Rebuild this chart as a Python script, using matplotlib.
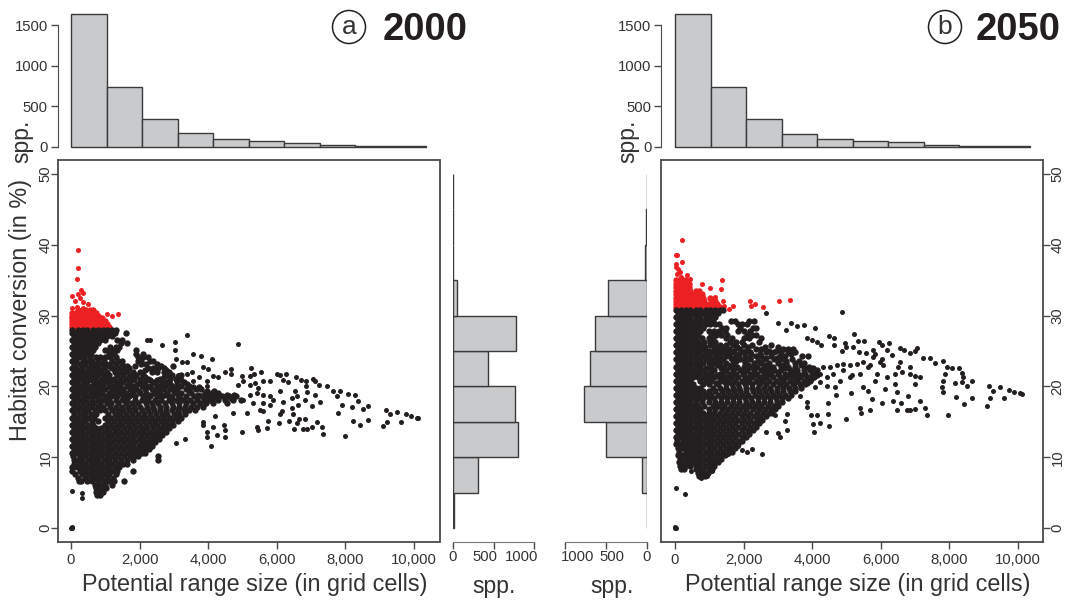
"""Habitat conversion vs potential range size, 2000 and 2050, with marginal histograms."""

import matplotlib
matplotlib.use("Agg")
import matplotlib.pyplot as plt
from matplotlib.patches import Circle
from matplotlib.ticker import FuncFormatter

plt.rcParams["font.family"] = ["Liberation Sans", "DejaVu Sans"]

TEXT = "#333333"
LINE = "#4a4a4a"
BAR = "#c8cacb"
BLACK = "#231f20"
RED = "#ed2024"

# marginal histograms, bars
range_bin_width = 1035
range_counts_a = [1630, 735, 345, 170, 95, 70, 55, 30, 15, 10]
range_counts_b = [1630, 735, 340, 165, 95, 75, 60, 30, 10, 8]
conv_bins = [0, 5, 10, 15, 20, 25, 30, 35, 40, 45]
conv_counts_a = [8, 310, 805, 765, 430, 775, 45, 5, 0, 0]
conv_counts_b = [3, 55, 495, 770, 695, 630, 470, 30, 8, 0]
side_tick_values = [0, 500, 1000]

# scatter, as (conversion %, [range sizes]) rows through the dense cloud
red_rows_a = [
    (30.8, [200, 310, 430, 560, 650]),
    (30.4, [30, 150, 270, 390, 510, 630, 740]),
    (30.0, [30, 140, 260, 380, 500, 620, 740, 800]),
    (29.6, [20, 130, 250, 370, 490, 610, 730, 850, 900]),
    (29.2, [30, 150, 270, 390, 510, 630, 750, 870, 990]),
    (28.8, [20, 130, 250, 370, 490, 610, 730, 850, 970, 1050]),
    (28.4, [30, 150, 270, 390, 510, 630, 750, 870, 990, 1100]),
]
red_x_a = [214, 214, 165, 292, 360, 214, 19, 262, 117, 360, 486, 19, 165, 360, 1040, 1186, 1370, 1089]
red_y_a = [39.2, 36.7, 35.2, 33.6, 33.2, 33.0, 32.7, 32.5, 32.0, 31.9, 31.6, 31.1, 31.2, 31.1, 30.2, 30.0, 30.2, 28.6]

black_rows_a = [
    (28.0, [40, 190, 340, 480, 640, 790, 930, 1060, 1190, 1300]),
    (27.6, [20, 150, 290, 430, 570, 700, 840, 980, 1120, 1290, 1600]),
    (27.1, [90, 230, 360, 500, 640, 780, 920, 1050, 1200]),
    (26.6, [20, 160, 300, 440, 580, 720, 860, 1000, 1350, 1500]),
    (26.1, [90, 230, 370, 500, 640, 780, 1450, 1620]),
    (25.6, [20, 150, 290, 430, 570, 710, 1150, 1300, 1400]),
    (25.1, [90, 220, 360, 500, 640, 1000, 1130, 1250, 1350, 1900]),
    (24.6, [20, 170, 310, 450, 590, 1100, 1240, 1900, 2100]),
    (24.1, [80, 240, 380, 560, 720, 860, 1000, 1150, 1300, 1950, 2100, 2250]),
    (23.6, [20, 150, 340, 500, 620, 800, 950, 1200, 1380, 1500, 1950, 2050, 2300, 2400]),
    (23.1, [90, 260, 420, 570, 740, 880, 1020, 1150, 1300, 1480, 2050, 2200, 2500]),
    (22.85, [640, 1110, 1640, 1870, 2620, 2970]),
    (22.6, [20, 150, 320, 500, 650, 790, 960, 1200, 1360, 1550, 1700, 2250, 2400, 2550, 2700]),
    (22.35, [300, 810, 1280, 1490, 2160, 2780]),
    (22.1, [90, 240, 400, 560, 720, 880, 1060, 1280, 1450, 1620, 1800, 2000, 2350, 2500, 2700, 2850]),
    (21.35, [190, 520, 1010, 1690, 2170, 2720, 3120]),
    (21.6, [20, 170, 330, 480, 640, 800, 960, 1120, 1350, 1520, 1750, 1900, 2100, 2800, 2950, 3200]),
    (21.1, [100, 260, 420, 590, 730, 900, 1060, 1240, 1440, 1600, 1850, 2020, 2250, 2600, 2900, 3050]),
    (20.85, [610, 1180, 1790, 2310, 2520, 3210]),
    (20.6, [20, 180, 340, 480, 680, 820, 1000, 1150, 1300, 1520, 1700, 2000, 2150, 2400, 2650, 2800, 3100, 3300]),
    (20.35, [370, 930, 1380, 1930, 2470, 2880, 3390]),
    (20.1, [90, 250, 420, 600, 760, 900, 1100, 1250, 1420, 1620, 1820, 2080, 2300, 2550, 2750, 2950, 3200, 3450]),
    (19.85, [560, 1150, 1770, 2220, 2630, 3060, 3560, 3740]),
    (19.6, [20, 160, 330, 500, 660, 840, 1000, 1200, 1350, 1520, 1720, 1900, 2150, 2350, 2500, 2700, 2900, 3100, 3350, 3650, 3800]),
    (19.35, [290, 780, 1410, 1980, 2560, 3020, 3430, 3970, 4180]),
    (19.1, [90, 240, 420, 580, 740, 900, 1100, 1280, 1450, 1600, 1800, 2000, 2200, 2420, 2600, 2800, 3000, 3200, 3500, 3900, 4100, 4300]),
    (18.85, [640, 1210, 1730, 2310, 2740, 3120, 3700, 4320, 4550, 4760]),
    (18.6, [20, 170, 340, 500, 680, 820, 1000, 1180, 1340, 1520, 1700, 1880, 2100, 2300, 2500, 2650, 2850, 3350, 3600, 3800, 4000, 4200, 4400, 4600, 4800]),
    (18.35, [430, 1060, 1590, 2170, 2940, 3170, 3940, 4140, 4660]),
    (18.1, [100, 260, 420, 620, 780, 940, 1120, 1300, 1480, 1640, 1860, 2060, 2240, 2440, 2620, 2860, 3100, 3300, 3480, 3680, 3880, 4060, 4280, 4500, 4720, 4950]),
    (17.6, [20, 180, 340, 520, 680, 860, 1040, 1180, 1380, 1600, 1780, 1950, 2180, 2360, 2540, 2740, 2950, 3150, 3350, 3550, 3750, 3950, 4150, 4550]),
    (17.1, [100, 260, 440, 600, 780, 940, 1130, 1300, 1480, 1660, 1840, 2020, 2220, 2400, 2600, 2780, 2960, 3140, 3320, 3500, 3680, 3860]),
    (16.6, [20, 170, 340, 500, 690, 850, 1000, 1190, 1360, 1530, 1700, 1880, 2060, 2240, 2420, 2590, 2770, 2950, 3120, 3300, 3450, 3620]),
    (16.1, [90, 250, 420, 580, 740, 1080, 1270, 1440, 1600, 1770, 1950, 2120, 2300, 2470, 2640, 2810, 2990, 3160, 3330]),
    (15.6, [20, 170, 340, 500, 660, 1000, 1170, 1340, 1510, 1680, 1860, 2030, 2200, 2370, 2540, 2710, 2880, 3050, 3220]),
    (15.1, [90, 250, 420, 600, 800, 1080, 1250, 1420, 1590, 1760, 1930, 2100, 2270, 2440, 2610, 2780, 2950, 3110]),
    (14.6, [20, 170, 330, 490, 650, 1000, 1160, 1330, 1500, 1670, 1840, 2010, 2180, 2350, 2520, 2680, 2830, 2960]),
    (14.1, [90, 250, 410, 570, 720, 880, 1040, 1210, 1380, 1550, 1720, 1890, 2060, 2230, 2400, 2560, 2720, 2860]),
    (13.6, [20, 170, 330, 490, 650, 800, 960, 1120, 1290, 1460, 1630, 1800, 1970, 2140, 2310, 2470, 2620, 2760]),
    (13.1, [90, 250, 410, 570, 720, 880, 1040, 1200, 1370, 1540, 1710, 1880, 2050, 2220, 2390, 2530, 2660]),
    (12.6, [20, 170, 330, 490, 650, 800, 960, 1120, 1290, 1460, 1630, 1800, 1970, 2140, 2290, 2430, 2560]),
    (12.1, [90, 250, 410, 570, 720, 880, 1040, 1200, 1370, 1540, 1710, 1880, 2050, 2200, 2340, 2460]),
    (11.6, [20, 170, 330, 490, 650, 800, 960, 1120, 1290, 1460, 1630, 1800, 1970, 2120, 2250, 2360]),
    (11.1, [90, 250, 410, 570, 720, 880, 1040, 1200, 1370, 1540, 1710, 1880, 2030, 2160, 2260]),
    (10.6, [30, 170, 330, 490, 650, 800, 960, 1120, 1290, 1460, 1630, 1800, 1950, 2060, 2170]),
    (10.1, [60, 250, 410, 570, 720, 880, 1040, 1200, 1370, 1540, 1710, 1850, 1960, 2550]),
    (9.6, [80, 170, 330, 490, 650, 800, 960, 1120, 1290, 1460, 1620, 1810, 2550]),
    (9.1, [100, 250, 410, 570, 720, 880, 1040, 1200, 1370, 1510, 1620]),
    (8.6, [30, 170, 330, 490, 650, 800, 960, 1120, 1290, 1400]),
    (8.1, [30, 250, 410, 570, 720, 880, 1040, 1200, 1350, 1820]),
    (7.6, [120, 330, 490, 650, 800, 960, 1120, 1300]),
    (7.1, [200, 400, 570, 720, 880, 1040, 1230]),
    (6.6, [240, 300, 470, 620, 790, 950, 1100, 1250, 1550]),
    (6.1, [690, 850, 1000, 1200]),
    (5.6, [740, 870, 1010]),
    (5.1, [730, 850, 920]),
    (4.6, [750, 850]),
]
black_x_a = [3373, 3033, 2304, 2206, 2644, 3033, 4880, 3567, 3790, 4121, 3052, 3227, 3373, 3860, 4005, 4490, 4656, 4656,
             5250, 4977, 5220, 5346, 5530, 4150, 4277, 3732, 3956, 3519, 3373, 3130, 3956, 3567, 4880, 5025, 5220, 5365,
             5608, 5803, 5997, 6095, 6260, 6192, 6337, 6561, 6697, 6852, 7047, 7115, 6852, 7241, 7455, 7650, 7844, 8087,
             8280, 8380, 8670, 8524, 8184, 7747, 7893, 7795, 9176, 9302, 9496, 9759, 9905, 10080, 10128, 9613, 9205, 9088,
             8670, 8427, 8213, 7990, 7358, 7310, 7164, 7018, 6872, 6775, 6512, 6580, 6824, 6658, 6367, 6056, 5706, 5754,
             5433, 5462, 4996, 4490, 4490, 4461, 4150, 4247, 3975, 3956, 4092, 3859, 3859, 3324, 3062, 5122, 4714, 4200,
             5608, 5511, 6095, 6483, 6143, 5608, 5803, 6192, 6435, 6629, 6824, 7018, 7261, 6435, 6580, 6532, 7115, 6872,
             6095, 5803, 5414, 5220, 5025, 5317, 5462, 5608, 5900, 311, 311, 19, 19, -5, 20, 30]
black_y_a = [27.2, 26.3, 26.6, 26.5, 25.8, 25.2, 26.0, 24.6, 24.3, 23.8, 23.8, 23.5, 23.4, 22.8, 22.5, 22.1, 22.5, 21.7,
             22.6, 21.4, 21.5, 21.8, 22.0, 21.5, 21.3, 21.3, 20.8, 22.0, 21.7, 21.6, 20.1, 20.8, 20.2, 20.7, 20.2, 20.5,
             20.8, 20.7, 21.8, 21.6, 21.7, 20.9, 20.6, 21.3, 20.9, 20.7, 21.1, 20.7, 20.0, 20.2, 20.0, 19.4, 19.4, 18.9,
             18.8, 17.9, 17.3, 16.8, 17.1, 18.6, 17.4, 16.2, 16.6, 16.1, 16.4, 16.1, 15.8, 15.6, 15.5, 15.0, 15.0, 14.4,
             15.3, 14.6, 15.1, 13.0, 13.3, 14.2, 15.0, 14.2, 14.0, 14.0, 14.0, 14.8, 15.4, 15.4, 15.1, 14.8, 14.1, 15.1,
             14.3, 13.9, 13.5, 12.8, 13.9, 14.5, 14.2, 13.2, 13.5, 12.8, 11.6, 15.0, 14.6, 12.6, 12.0, 16.2, 16.2, 15.8,
             16.5, 16.7, 16.1, 16.1, 16.5, 17.6, 17.4, 17.8, 17.0, 17.4, 18.1, 17.2, 17.8, 18.3, 18.6, 19.4, 18.8, 19.2,
             19.4, 18.6, 19.1, 18.8, 18.1, 17.6, 19.8, 18.8, 18.1, 4.3, 4.9, 8.0, 5.2, 0.05, 0.15, 0.0]

red_rows_b = [
    (35.0, [30, 120, 220, 320]),
    (34.5, [20, 110, 210, 310, 400]),
    (34.0, [30, 130, 220, 300, 400]),
    (33.5, [20, 100, 200, 310, 440, 600, 700]),
    (33.0, [30, 130, 240, 350, 470, 580, 680, 790]),
    (32.5, [20, 130, 250, 360, 480, 600, 720, 830, 1020]),
    (32.0, [30, 150, 260, 380, 500, 620, 750, 860, 1070, 1160]),
    (31.6, [20, 140, 260, 380, 500, 620, 740, 860, 980, 1100, 1220]),
    (31.2, [20, 140, 260, 380, 500, 620, 740, 860, 980, 1100, 1220, 1300]),
]
red_x_b = [194, 29, 68, 194, 19, 19, 97, 146, 68, 360, 165, 437, 1361, 797, 408, 1020, 1332, 2187, 3353, 3023, 2323, 2206,
           2576, 1701, 1575, 1409, 1429, 1166]
red_y_b = [40.7, 38.6, 38.5, 37.6, 37.3, 36.8, 36.6, 36.1, 35.9, 35.8, 35.4, 35.2, 35.0, 34.5, 34.6, 33.9, 33.7, 32.0, 32.2,
           32.0, 31.7, 31.3, 31.2, 31.3, 31.0, 32.1, 31.4, 32.6]

black_rows_b = [
    (30.8, [20, 170, 310, 450, 600, 740, 890, 1030, 1170, 1300, 1400]),
    (30.3, [90, 240, 380, 530, 670, 820, 960, 1100, 1250]),
    (29.8, [20, 170, 310, 450, 600, 740, 890, 1030, 1170]),
    (29.3, [90, 240, 380, 530, 670, 820, 960, 1100, 1620, 1750, 2150, 2300]),
    (28.8, [20, 170, 310, 450, 600, 740, 890, 1030, 1170, 1280, 1850, 1950, 2100]),
    (28.3, [90, 240, 380, 530, 670, 820, 1380, 1500, 1900, 2270, 2350]),
    (27.8, [20, 170, 310, 450, 600, 740, 1000, 1130, 1280, 1450, 1850, 2000, 2200]),
    (27.3, [90, 240, 380, 530, 670, 1040, 1200, 1350, 1520, 2100, 2250, 2350]),
    (26.8, [20, 170, 310, 450, 600, 780, 980, 1120, 1500, 1650, 2000, 2150, 2500]),
    (26.3, [90, 240, 380, 530, 670, 860, 1020, 1180, 1600, 1780, 1950, 2450]),
    (25.8, [20, 170, 310, 450, 600, 740, 1020, 1300, 1500, 1700, 2000, 2250, 2800]),
    (25.55, [880, 1180, 1420, 1820, 2130, 2620, 3010]),
    (25.3, [90, 240, 380, 530, 670, 820, 1150, 1320, 1560, 1900, 2350, 2500, 3150, 3300, 3450]),
    (25.05, [990, 1490, 1720, 2080, 2740, 2950]),
    (24.8, [20, 170, 310, 450, 600, 740, 900, 1100, 1250, 1400, 1650, 2000, 2200, 2650, 2900, 3100, 3300, 3500]),
    (24.55, [650, 1190, 1560, 1880, 2220, 2470, 3380]),
    (24.3, [90, 240, 380, 530, 820, 980, 1300, 1500, 1780, 2050, 2350, 2500, 2800, 3050, 3200, 3700, 3880]),
    (24.05, [680, 1120, 1640, 2190, 2640, 2960]),
    (23.8, [20, 170, 310, 450, 600, 740, 900, 1060, 1200, 1400, 1650, 1900, 2200, 2600, 2900, 3100, 3400]),
    (23.55, [1260, 1780, 2040, 2420, 3230, 3620]),
    (23.3, [90, 240, 380, 530, 670, 820, 980, 1130, 1300, 1500, 1730, 2050, 2300, 2500, 2750, 3000, 3250, 3500, 3750]),
    (23.05, [1220, 1640, 2140, 2660, 3140, 3680]),
    (22.8, [20, 170, 310, 450, 600, 740, 1060, 1420, 1600, 1800, 2000, 2200, 2400, 2600, 2850, 3100, 3300, 3500, 3900]),
    (22.55, [900, 1330, 1710, 2290, 2780, 3210, 3800, 4030]),
    (22.3, [90, 240, 380, 530, 670, 820, 1150, 1500, 1700, 1900, 2100, 2300, 2500, 2700, 2900, 3100, 3350, 3550, 3750, 3950, 4150]),
    (22.05, [1020, 1390, 2010, 2590, 3010, 3460, 4080]),
    (21.8, [20, 170, 310, 450, 600, 740, 900, 1060, 1300, 1560, 1780, 1980, 2180, 2400, 2600, 2800, 3000, 3200, 3400, 3600, 3800, 4000]),
    (21.55, [1220, 1670, 2300, 2720, 3310, 3710, 4140]),
    (21.3, [90, 240, 380, 530, 670, 820, 980, 1130, 1300, 1450, 1650, 1850, 2050, 2250, 2450, 2650, 2850, 3050, 3250, 3450, 3650, 3850, 4050]),
    (21.05, [1310, 1540, 2140, 2560, 3160, 3560, 3970]),
    (20.8, [20, 170, 310, 450, 740, 900, 1060, 1400, 1550, 1750, 1950, 2150, 2350, 2550, 2750, 2950, 3150, 3350, 3550, 3750, 3950]),
    (20.55, [1200, 1660, 2060, 2470, 3060, 3470, 3860]),
    (20.3, [90, 240, 380, 530, 820, 980, 1250, 1480, 1650, 1850, 2050, 2250, 2450, 2650, 2850, 3050, 3250, 3450, 3650, 3800]),
    (19.8, [20, 170, 310, 450, 600, 740, 1100, 1300, 1500, 1700, 1880, 2060, 2240, 2420, 2600, 2780, 2960, 3140, 3320, 3500, 3680]),
    (19.3, [90, 240, 380, 530, 670, 820, 1000, 1180, 1360, 1540, 1720, 1900, 2080, 2260, 2440, 2620, 2800, 2980, 3160, 3340, 3500]),
    (18.8, [20, 170, 310, 450, 600, 740, 900, 1060, 1240, 1420, 1600, 1780, 1960, 2140, 2320, 2500, 2680, 2860, 3040, 3220, 3380]),
    (18.3, [90, 240, 380, 530, 670, 820, 980, 1150, 1330, 1510, 1690, 1870, 2050, 2230, 2410, 2590, 2770, 2950, 3130, 3280]),
    (17.8, [20, 170, 310, 450, 600, 800, 1000, 1160, 1340, 1520, 1700, 1880, 2060, 2240, 2420, 2600, 2780, 2960, 3120]),
    (17.3, [90, 240, 380, 530, 670, 850, 1100, 1260, 1440, 1620, 1800, 1980, 2160, 2340, 2520, 2700, 2880, 3010]),
    (16.8, [20, 170, 310, 450, 600, 740, 1000, 1180, 1360, 1540, 1720, 1900, 2080, 2260, 2440, 2620, 2800, 2920]),
    (16.3, [90, 240, 380, 530, 670, 820, 980, 1130, 1300, 1480, 1660, 1840, 2020, 2200, 2380, 2560, 2730, 2840]),
    (15.8, [20, 170, 310, 450, 600, 740, 900, 1060, 1220, 1400, 1580, 1760, 1940, 2120, 2300, 2480, 2650]),
    (15.3, [90, 240, 380, 530, 670, 820, 980, 1130, 1300, 1480, 1660, 1840, 2020, 2200, 2380, 2550]),
    (14.8, [20, 170, 310, 450, 600, 740, 900, 1060, 1220, 1400, 1580, 1760, 1940, 2120, 2300, 2460]),
    (14.3, [90, 240, 380, 530, 670, 820, 980, 1130, 1300, 1480, 1660, 1840, 2020, 2200, 2360]),
    (13.8, [20, 170, 310, 450, 600, 740, 900, 1060, 1220, 1400, 1580, 1760, 1940, 2120, 2260]),
    (13.3, [90, 240, 380, 530, 670, 820, 980, 1130, 1300, 1480, 1660, 1840, 2020, 2170]),
    (12.8, [20, 170, 310, 450, 600, 740, 900, 1060, 1220, 1400, 1580, 1760, 1940, 2060]),
    (12.3, [60, 240, 380, 530, 670, 820, 980, 1130, 1300, 1480, 1660, 1830, 1950]),
    (11.8, [30, 170, 310, 450, 600, 740, 900, 1060, 1220, 1400, 1580, 1740, 1850]),
    (11.3, [80, 240, 380, 530, 670, 820, 980, 1130, 1300, 1480, 1640, 1760]),
    (10.8, [120, 310, 450, 600, 740, 900, 1060, 1220, 1400, 1560, 1650]),
    (10.3, [100, 240, 380, 530, 670, 820, 980, 1130, 1300, 1450]),
    (9.8, [160, 310, 450, 600, 740, 900, 1060, 1220, 1350]),
    (9.3, [130, 240, 380, 530, 670, 820, 980, 1130, 1250]),
    (8.8, [150, 300, 450, 600, 740, 900, 1060, 1150]),
    (8.3, [170, 270, 620, 720, 820, 980, 1070]),
    (7.8, [660, 740, 850, 960]),
    (7.4, [700, 780, 880]),
]
black_x_b = [4860, 2644, 3013, 3373, 3771, 4092, 3548, 3227, 5229, 4491, 4636, 3839, 3985, 4131, 4267, 4636, 4967, 5327, 5511,
             5949, 6250, 6026, 4986, 5200, 4880, 5365, 5783, 6561, 6678, 7047, 6998, 6172, 5569, 5832, 6318, 6853, 7241, 7436,
             7825, 7581, 8068, 8281, 7922, 8359, 8408, 7873, 8651, 8359, 8165, 7825, 7776, 7825, 8505, 9156, 9282, 9487, 9749,
             9885, 10060, 10109, 9603, 9185, 9088, 8651, 8427, 8194, 7970, 7339, 7290, 7144, 7008, 6853, 6775, 6483, 6580, 6804,
             6347, 6026, 5686, 5735, 5395, 5434, 4977, 5122, 4685, 4452, 4471, 4481, 4228, 4131, 3956, 4034, 4063, 3839, 3839,
             3645, 3256, 3208, 3276, 3013, 3062, 2644, 2916, 2527, 2255, 2090, 1963, 1827, 1536, 1069, 923, 748, 457, 292, 19,
             4325, 4520, 4714, 4909, 5103, 5297, 5492, 5686, 4909, 5152, 5395, 5638, 4228, 4423, 4617, 4812, 4228, 4423, 4666,
             4082, 5103, 5492, 5638, 5881, 5832, 6026, 6075, 6172, 6415, 6512, 6561, 6415, 6610, 6853, 6853, 6998, 7144, 6998,
             6123, 6464, 5783, 5978, -5, 10, 20]
black_y_b = [30.5, 30.4, 28.9, 28.9, 28.7, 28.2, 28.5, 27.9, 27.4, 27.1, 26.8, 26.8, 26.6, 26.3, 25.9, 25.9, 26.2, 26.4, 26.4,
             26.3, 26.2, 25.8, 25.5, 25.5, 25.0, 24.8, 25.2, 25.4, 25.2, 25.4, 25.0, 25.2, 24.7, 24.6, 24.4, 24.7, 24.0, 24.0,
             23.6, 23.3, 22.6, 22.6, 22.8, 21.9, 21.3, 21.8, 20.8, 20.6, 20.5, 20.8, 19.9, 19.2, 20.1, 20.1, 19.4, 19.9, 19.5,
             19.2, 19.0, 18.9, 18.4, 18.3, 17.3, 18.4, 17.5, 18.5, 16.0, 16.0, 16.9, 18.0, 16.8, 16.6, 16.7, 16.6, 17.6, 18.6,
             18.0, 17.6, 16.6, 18.2, 16.9, 16.2, 15.4, 19.0, 18.8, 17.6, 16.1, 14.4, 14.9, 16.0, 15.9, 14.7, 13.6, 17.1, 17.8,
             18.6, 16.1, 15.1, 13.9, 13.4, 12.8, 13.5, 15.9, 10.5, 11.2, 10.7, 11.0, 11.6, 10.5, 8.1, 7.4, 7.1, 8.0, 4.8, 5.6,
             22.7, 22.7, 23.0, 23.2, 23.0, 23.2, 23.4, 23.0, 22.3, 21.6, 21.8, 22.7, 21.8, 21.3, 21.8, 20.8, 20.6, 20.1, 19.9,
             19.9, 21.3, 19.9, 19.4, 21.8, 20.8, 23.9, 23.0, 21.3, 21.8, 22.7, 23.4, 20.4, 22.0, 21.8, 22.7, 21.5, 21.3, 20.4,
             19.7, 19.2, 24.1, 23.4, 0.05, 0.15, 0.0]

FW, FH = 1065, 601


def add_axes_px(fig, left, top, right, bottom):
    return fig.add_axes([left / FW, 1 - bottom / FH, (right - left) / FW, (bottom - top) / FH])


def flatten(rows):
    xs, ys = [], []
    for level, values in rows:
        xs += values
        ys += [level] * len(values)
    return xs, ys


def style_ticks(ax, **kw):
    ax.tick_params(colors=TEXT, length=5, width=1.0, labelsize=10.7, color=LINE, **kw)


def draw_scatter(fig, left, x0, black, red, right_ticks):
    right = left + 382
    xlim = ((left - x0) / 0.0343, (right - x0) / 0.0343)
    ax = add_axes_px(fig, left, 159.5, right, 542)
    # rows sit in the packed cloud, so they get a slightly fatter dot to close up
    ax.scatter(*flatten(red[0]), s=21, c=RED, linewidths=0)
    ax.scatter(red[1], red[2], s=13, c=RED, linewidths=0)
    ax.scatter(*flatten(black[0]), s=21, c=BLACK, linewidths=0)
    ax.scatter(black[1], black[2], s=13, c=BLACK, linewidths=0)
    ax.set_xlim(*xlim)
    ax.set_ylim((528 - 542) / 7.08, (528 - 159.5) / 7.08)
    ax.set_xticks([0, 2000, 4000, 6000, 8000, 10000])
    ax.xaxis.set_major_formatter(FuncFormatter(lambda v, p: format(int(v), ",")))
    ax.set_yticks([0, 10, 20, 30, 40, 50])
    style_ticks(ax, pad=3)
    ax.tick_params(axis="y", pad=0.5 if right_ticks else -1.5)
    if right_ticks:
        ax.yaxis.tick_right()
    for lab in ax.get_yticklabels():
        lab.set_rotation(90)
        lab.set_verticalalignment("center")
    for s in ax.spines.values():
        s.set_color(LINE)
        s.set_linewidth(1.3)
    return ax, xlim


def draw_top_hist(fig, left, xlim, counts):
    ax = add_axes_px(fig, left, 5, left + 382, 147)
    edges = [range_bin_width * i for i in range(len(counts))]
    ax.bar(edges, counts, width=range_bin_width, align="edge", color=BAR, edgecolor="#3a3a3a", linewidth=1.0, clip_on=False)
    ax.set_xlim(*xlim)
    ax.set_ylim(0, 142 / 0.0813)
    ax.set_yticks([0, 500, 1000, 1500])
    ax.set_xticks([])
    for name in ("top", "right", "bottom"):
        ax.spines[name].set_visible(False)
    ax.spines["left"].set_bounds(0, 1500)
    ax.spines["left"].set_color(LINE)
    style_ticks(ax, pad=2)
    ax.patch.set_alpha(0)


def draw_side_hist(fig, left, right, xlim, counts):
    ax = add_axes_px(fig, left, 159.5, right, 542)
    ax.barh(conv_bins, counts, height=5, align="edge", color=BAR, edgecolor="#3a3a3a", linewidth=1.0)
    ax.set_xlim(*xlim)
    ax.set_ylim((528 - 542) / 7.08, (528 - 159.5) / 7.08)
    ax.set_xticks(side_tick_values)
    ax.set_yticks([])
    for name in ("top", "right", "left"):
        ax.spines[name].set_visible(False)
    ax.spines["bottom"].set_bounds(0, 1000)
    ax.spines["bottom"].set_color("#777777")
    style_ticks(ax, pad=3, labelbottom=False)
    ax.patch.set_alpha(0)


fig = plt.figure(figsize=(FW / 100, FH / 100), dpi=100)

ax_a, xlim_a = draw_scatter(fig, 57.5, 71, (black_rows_a, black_x_a, black_y_a), (red_rows_a, red_x_a, red_y_a), False)
ax_b, xlim_b = draw_scatter(fig, 661, 675, (black_rows_b, black_x_b, black_y_b), (red_rows_b, red_x_b, red_y_b), True)
draw_top_hist(fig, 57.5, xlim_a, range_counts_a)
draw_top_hist(fig, 661, xlim_b, range_counts_b)
draw_side_hist(fig, 453, 545, (0, 92 / 0.081), conv_counts_a)
draw_side_hist(fig, 555, 647, (92 / 0.082, 0), conv_counts_b)

# overlay in pixel coordinates for the free-standing labels
over = fig.add_axes([0, 0, 1, 1])
over.set_xlim(0, FW)
over.set_ylim(FH, 0)
over.axis("off")

over.text(255, 584, "Potential range size (in grid cells)", fontsize=16.8, color=TEXT, ha="center", va="center")
over.text(858, 584, "Potential range size (in grid cells)", fontsize=16.8, color=TEXT, ha="center", va="center")
over.text(21, 310, "Habitat conversion (in %)", fontsize=16.8, color=TEXT, rotation=90, ha="center", va="center")
over.text(22, 141, "spp.", fontsize=16.5, color=TEXT, rotation=90, ha="center", va="center")
over.text(628, 141, "spp.", fontsize=16.5, color=TEXT, rotation=90, ha="center", va="center")
over.text(494, 586, "spp.", fontsize=16.5, color=TEXT, ha="center", va="center")
over.text(612, 586, "spp.", fontsize=16.5, color=TEXT, ha="center", va="center")

# the side histogram labels sit inward of their ticks
for label, xa, xb in zip(side_tick_values, (453, 485, 522), (647, 612, 578)):
    over.text(xa, 557, str(label), fontsize=10.7, color=TEXT, ha="center", va="center")
    over.text(xb, 557, str(label), fontsize=10.7, color=TEXT, ha="center", va="center")

over.add_patch(Circle((349, 27), 16.5, fill=False, edgecolor=BLACK, linewidth=1.1))
over.add_patch(Circle((945, 27), 16.5, fill=False, edgecolor=BLACK, linewidth=1.1))
over.text(349, 27, "a", fontsize=19, color=TEXT, ha="center", va="center")
over.text(945, 27, "b", fontsize=19, color=TEXT, ha="center", va="center")
over.text(425, 29.5, "2000", fontsize=27.5, fontweight="bold", color=BLACK, ha="center", va="center")
over.text(1018, 29.5, "2050", fontsize=27.5, fontweight="bold", color=BLACK, ha="center", va="center")

fig.savefig("out.png", dpi=100)
plt.close(fig)
